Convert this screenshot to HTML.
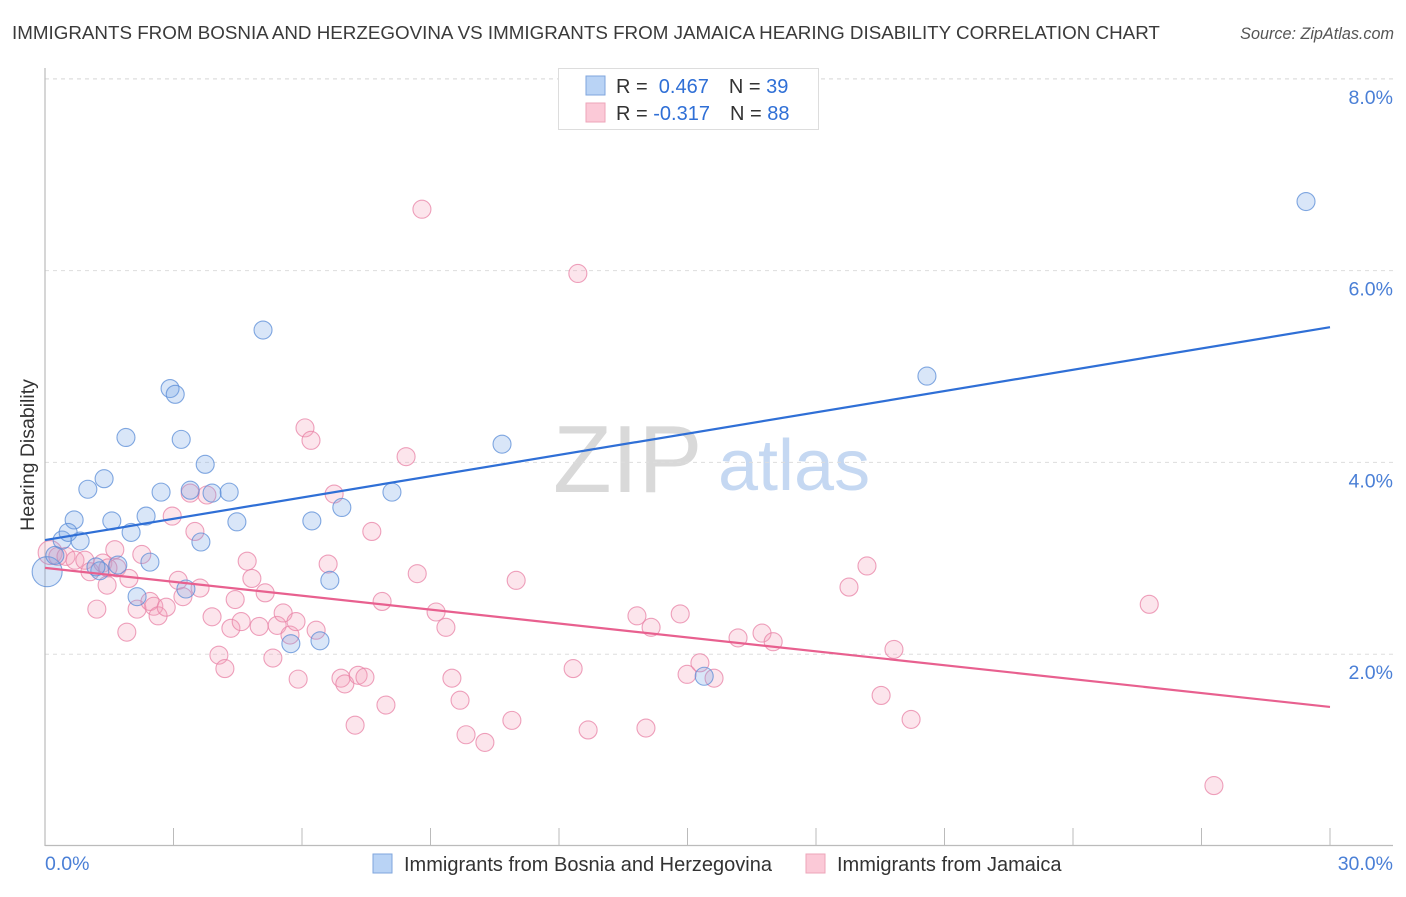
<!DOCTYPE html>
<html><head><meta charset="utf-8"><style>
body{margin:0;background:#fff;font-family:"Liberation Sans",sans-serif}
svg text{font-family:"Liberation Sans",sans-serif}
</style></head><body>
<svg id="chart" width="1406" height="892" xmlns="http://www.w3.org/2000/svg">
<text x="12" y="39" font-size="18.8" fill="#3a3a3a">IMMIGRANTS FROM BOSNIA AND HERZEGOVINA VS IMMIGRANTS FROM JAMAICA HEARING DISABILITY CORRELATION CHART</text>
<text x="1394" y="39" font-size="16.2" fill="#555" font-style="italic" text-anchor="end">Source: ZipAtlas.com</text>
<g>
<text x="553" y="492" font-size="96" fill="#d9d9d9" font-family="Liberation Serif, serif">ZIP</text>
<text x="718" y="490" font-size="72" fill="#c5d8f2">atlas</text>
</g>
<g id="grid"></g>
<line x1="45" y1="68" x2="45" y2="846" stroke="#bbb" stroke-width="1.2"/>
<line x1="45" y1="845.5" x2="1393" y2="845.5" stroke="#bbb" stroke-width="1.2"/>
<g id="xticks"></g>
<g id="yticks"></g>
<text transform="translate(34,455) rotate(-90)" font-size="19.5" fill="#333" text-anchor="middle">Hearing Disability</text>
<text x="45" y="870" font-size="19.5" fill="#4a7fd6">0.0%</text>
<text x="1393" y="870" font-size="19.5" fill="#4a7fd6" text-anchor="end">30.0%</text>
<g id="pinkPts"></g>
<g id="bluePts"></g>
<g id="lines"></g>
<g>
<rect x="558.5" y="68.5" width="260" height="61" fill="#fff" stroke="#ddd"/>
<rect x="586" y="76" width="19" height="19" fill="#b9d3f5" stroke="#7fa6dd"/>
<rect x="586" y="103" width="19" height="19" fill="#fbc9d7" stroke="#eea5ba"/>
<text x="616" y="93" font-size="20" fill="#333">R = <tspan fill="#2f6fd6">&#160;0.467</tspan><tspan dx="20">N = </tspan><tspan fill="#2f6fd6">39</tspan></text>
<text x="616" y="120" font-size="20" fill="#333">R = <tspan fill="#2f6fd6">-0.317</tspan><tspan dx="20">N = </tspan><tspan fill="#2f6fd6">88</tspan></text>
</g>
<g>
<rect x="373" y="854" width="19" height="19" fill="#b9d3f5" stroke="#7fa6dd"/>
<text x="404" y="871" font-size="20" fill="#333">Immigrants from Bosnia and Herzegovina</text>
<rect x="806" y="854" width="19" height="19" fill="#fbc9d7" stroke="#eea5ba"/>
<text x="837" y="871" font-size="20" fill="#333">Immigrants from Jamaica</text>
</g>
</svg>
<script>
const yTickValues=[2,4,6,8];
const yTickLabels=["2.0%","4.0%","6.0%","8.0%"];
const xTickValues=[0,3,6,9,12,15,18,21,24,27,30];
const blueX=[0.05,0.40,0.68,0.82,1.00,1.38,1.56,1.89,2.01,2.36,2.45,2.71,2.15,2.92,3.04,3.18,3.29,3.39,3.64,3.74,3.90,4.30,4.48,5.09,5.74,6.23,6.42,6.65,6.93,8.10,10.67,15.39,20.59,29.44,1.28,1.70,0.23,0.54,1.19];
const blueY=[2.86,3.19,3.40,3.18,3.72,3.83,3.39,4.26,3.27,3.44,2.96,3.69,2.60,4.77,4.71,4.24,2.68,3.71,3.17,3.98,3.68,3.69,3.38,5.38,2.11,3.39,2.14,2.77,3.53,3.69,4.19,1.77,4.90,6.72,2.87,2.93,3.03,3.27,2.91];
const pinkX=[0.12,0.30,0.49,0.70,0.93,1.05,1.21,1.35,1.45,1.63,1.68,1.91,1.96,2.15,2.26,2.45,2.54,2.64,2.83,2.97,3.11,3.22,3.39,3.50,3.62,3.78,3.90,4.06,4.20,4.34,4.44,4.58,4.72,4.83,5.00,5.14,5.32,5.42,5.56,5.72,5.86,5.91,6.07,6.21,6.33,6.61,6.75,6.91,7.00,7.24,7.31,7.47,7.63,7.87,7.96,8.43,8.69,8.80,9.13,9.36,9.50,9.69,9.83,10.27,10.90,11.00,12.33,12.44,12.68,13.82,14.03,14.15,14.83,14.99,15.29,15.62,16.18,16.74,17.00,18.77,19.19,19.52,19.82,20.22,25.78,27.29,1.47];
const pinkY=[3.06,3.02,3.02,2.98,2.98,2.86,2.47,2.95,2.72,3.09,2.90,2.23,2.79,2.47,3.04,2.55,2.50,2.40,2.49,3.44,2.77,2.60,3.68,3.28,2.69,3.66,2.39,1.99,1.85,2.27,2.57,2.34,2.97,2.79,2.29,2.64,1.96,2.30,2.43,2.20,2.34,1.74,4.36,4.23,2.25,2.94,3.67,1.75,1.69,1.26,1.78,1.76,3.28,2.55,1.47,4.06,2.84,6.64,2.44,2.28,1.75,1.52,1.16,1.08,1.31,2.77,1.85,5.97,1.21,2.40,1.23,2.28,2.42,1.79,1.91,1.75,2.17,2.22,2.13,2.70,2.92,1.57,2.05,1.32,2.52,0.63,2.90];
const blueTrend=[3.19,5.41];
const pinkTrend=[2.90,1.45];
const NS="http://www.w3.org/2000/svg";
function sx(v){return 45+v*(1285/30);}
function sy(v){return 846-v*95.9;}
function mk(tag,attrs,parent){const e=document.createElementNS(NS,tag);for(const k in attrs)e.setAttribute(k,attrs[k]);parent.appendChild(e);return e;}
const grid=document.getElementById('grid'),yt=document.getElementById('yticks'),xt=document.getElementById('xticks');
yTickValues.forEach((v,i)=>{
 const l=mk('line',{x1:45,x2:1393,y1:sy(v),y2:sy(v),stroke:'#ddd','stroke-dasharray':'4,4'},grid);
 
 
 const t=mk('text',{x:1393,y:sy(v)+25,'font-size':19.5,fill:'#4a7fd6','text-anchor':'end'},yt);
 t.textContent=yTickLabels[i];
 
 
});
mk('line',{x1:45,x2:1393,y1:79,y2:79,stroke:'#ddd','stroke-dasharray':'4,4'},grid);
xTickValues.forEach(v=>{
 const l=mk('line',{x1:sx(v),x2:sx(v),y1:828,y2:846,stroke:'#bbb'},xt);
 
 
});
function pts(xs,ys,g,fill,stroke,big){
 xs.forEach((x,i)=>{
  const c=mk('circle',{cx:sx(x),cy:sy(ys[i]),r:i===0?big:9,fill:fill,stroke:stroke,'stroke-width':1.1},g);
  
  
 });
}
pts(pinkX,pinkY,document.getElementById('pinkPts'),'rgba(244,160,186,0.28)','rgba(232,130,165,0.75)',12);
pts(blueX,blueY,document.getElementById('bluePts'),'rgba(120,165,230,0.28)','rgba(90,140,215,0.75)',15);
const lg=document.getElementById('lines');
const bl=mk('line',{x1:sx(0),y1:sy(blueTrend[0]),x2:sx(30),y2:sy(blueTrend[1]),stroke:'#2f6fd6','stroke-width':2.2},lg);


const pl=mk('line',{x1:sx(0),y1:sy(pinkTrend[0]),x2:sx(30),y2:sy(pinkTrend[1]),stroke:'#e8608f','stroke-width':2.2},lg);


</script>
</body></html>
